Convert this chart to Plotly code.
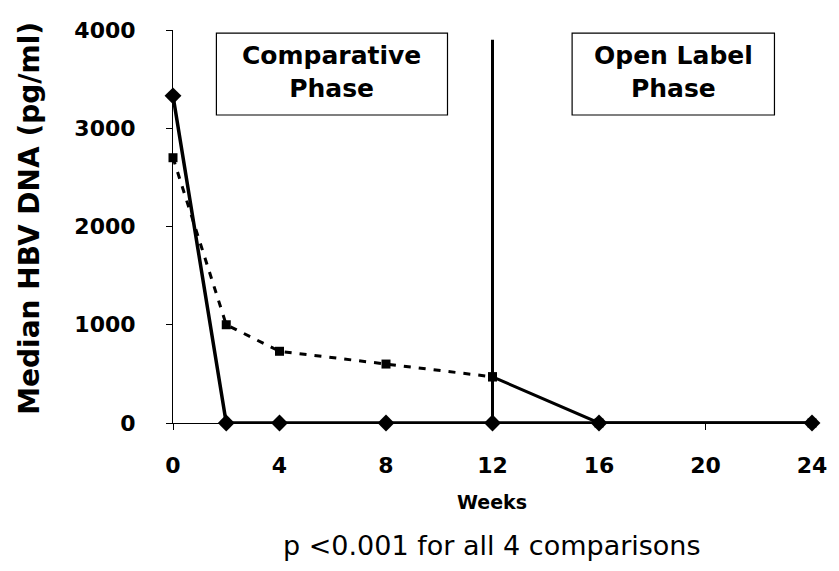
import plotly.graph_objects as go

weeks = [0, 2, 4, 8, 12, 16, 24]
diamond_vals = [3330, 0, 0, 0, 0, 0, 0]
square_vals = [2700, 1000, 730, 600, 470, 0, 0]
x_ticks = [0, 4, 8, 12, 16, 20, 24]
y_ticks = [0, 1000, 2000, 3000, 4000]

FONT = "DejaVu Sans"
BLACK = "black"

W, H = 839, 571
PX_L, PX_R, PX_T, PX_B = 173, 820, 30, 423  # plot area in pixels
L, R, T, B = PX_L, W - PX_R, PX_T, H - PX_B


def px(xp, yp):
    return ((xp - PX_L) / (PX_R - PX_L), (PX_B - yp) / (PX_B - PX_T))


fig = go.Figure()

# square series: dashed during comparative phase, solid afterwards
n_cmp = weeks.index(12) + 1
fig.add_trace(go.Scatter(
    x=weeks[n_cmp - 1:], y=square_vals[n_cmp - 1:], mode="lines+markers",
    line=dict(color=BLACK, width=3),
    marker=dict(symbol="square", size=9, color=BLACK),
    cliponaxis=False, showlegend=False))
fig.add_trace(go.Scatter(
    x=weeks[:n_cmp], y=square_vals[:n_cmp], mode="lines+markers",
    line=dict(color=BLACK, width=3, dash="7px,8px"),
    marker=dict(symbol="square", size=9, color=BLACK),
    cliponaxis=False, showlegend=False))
fig.add_trace(go.Scatter(
    x=weeks, y=diamond_vals, mode="lines+markers",
    line=dict(color=BLACK, width=3.5),
    marker=dict(symbol="diamond", size=13, color=BLACK),
    cliponaxis=False, showlegend=False))

# phase divider
fig.add_shape(type="line", x0=12, x1=12, y0=0, y1=3900, xref="x", yref="y",
              line=dict(color=BLACK, width=3))

# phase boxes
fig.add_shape(type="rect", x0=1.63, x1=10.31, y0=3135, y1=3969, xref="x", yref="y",
              line=dict(color=BLACK, width=1.2), fillcolor="white", layer="above")
fig.add_shape(type="rect", x0=14.99, x1=22.59, y0=3135, y1=3969, xref="x", yref="y",
              line=dict(color=BLACK, width=1.2), fillcolor="white", layer="above")
box_font = dict(family=FONT, size=25, color=BLACK, weight="bold")
fig.add_annotation(x=5.97, y=3570, xref="x", yref="y", text="Comparative<br>Phase",
                   showarrow=False, font=box_font, xanchor="center", yanchor="middle")
fig.add_annotation(x=18.79, y=3570, xref="x", yref="y", text="Open Label<br>Phase",
                   showarrow=False, font=box_font, xanchor="center", yanchor="middle")

# axis titles & footnote
ax, ay = px(28, 218)
fig.add_annotation(x=ax, y=ay, xref="paper", yref="paper", text="Median HBV DNA (pg/ml)",
                   textangle=-90, showarrow=False, xanchor="center", yanchor="middle",
                   font=dict(family=FONT, size=28, color=BLACK, weight="bold"))
ax, ay = px(496, 502)
fig.add_annotation(x=ax, y=ay, xref="paper", yref="paper", text="Weeks", showarrow=False,
                   xanchor="center", yanchor="middle",
                   font=dict(family=FONT, size=19, color=BLACK, weight="bold"))
ax, ay = px(496, 545)
fig.add_annotation(x=ax, y=ay, xref="paper", yref="paper",
                   text="p <0.001 for all 4 comparisons", showarrow=False,
                   xanchor="center", yanchor="middle",
                   font=dict(family=FONT, size=27, color=BLACK))

fig.update_layout(
    width=W, height=H, margin=dict(l=L, r=R, t=T, b=B),
    paper_bgcolor="white", plot_bgcolor="white",
    xaxis=dict(range=[0, 24], tickvals=x_ticks, ticktext=[str(v) for v in x_ticks],
               showgrid=False, zeroline=False, showline=True, linecolor=BLACK, linewidth=1,
               ticks="outside", ticklen=6, tickcolor=BLACK, ticklabelstandoff=17,
               tickfont=dict(family=FONT, size=22, color=BLACK, weight="bold")),
    yaxis=dict(range=[0, 4000], tickvals=y_ticks, ticktext=[str(v) for v in y_ticks],
               showgrid=False, zeroline=False, showline=True, linecolor=BLACK, linewidth=1,
               ticks="outside", ticklen=6, tickcolor=BLACK, ticklabelstandoff=26,
               tickfont=dict(family=FONT, size=22, color=BLACK, weight="bold")),
)

fig.write_html(
    "out.html",
    config={"displayModeBar": False},
    post_script="document.body.style.margin='0';document.body.style.overflow='hidden';",
)
